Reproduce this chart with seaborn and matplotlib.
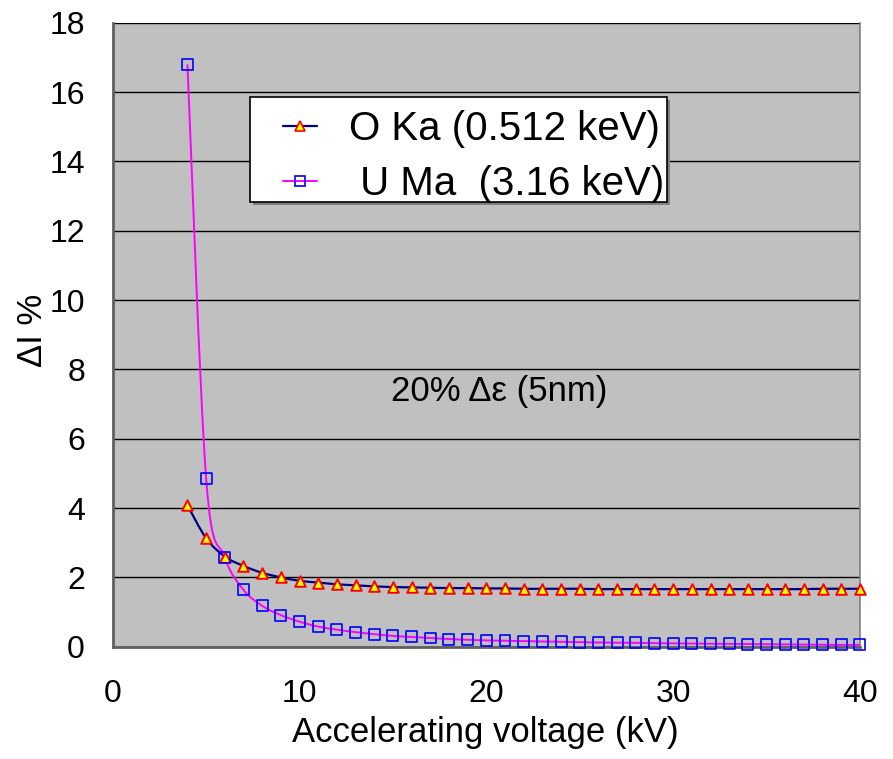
import numpy as np
import pandas as pd
import seaborn as sns
import matplotlib
matplotlib.use("Agg")
import matplotlib.pyplot as plt
from matplotlib.path import Path
from matplotlib.patches import PathPatch, Rectangle
from matplotlib.lines import Line2D

# Accelerating voltage (kV)
voltage = list(range(4, 41))

# Intensity change (%) for a 20% change in layer thickness, O Ka line
o_ka = [4.08, 3.13, 2.60, 2.33, 2.13, 2.00, 1.90, 1.85, 1.80, 1.77,
        1.74, 1.72, 1.71, 1.70, 1.69, 1.69, 1.68, 1.68, 1.67, 1.67,
        1.67, 1.67, 1.66, 1.66, 1.66, 1.66, 1.66, 1.66, 1.66, 1.66,
        1.66, 1.66, 1.66, 1.66, 1.67, 1.67, 1.67]

# Same for the U Ma line
u_ma = [16.80, 4.86, 2.58, 1.64, 1.18, 0.91, 0.72, 0.58, 0.49, 0.42,
        0.36, 0.31, 0.28, 0.25, 0.22, 0.20, 0.18, 0.17, 0.16, 0.15,
        0.14, 0.13, 0.12, 0.115, 0.11, 0.10, 0.095, 0.09, 0.085, 0.08,
        0.075, 0.07, 0.065, 0.06, 0.055, 0.05, 0.05]

series_labels = ["O Ka (0.512 keV)", " U Ma  (3.16 keV)"]
x_ticks = [0, 10, 20, 30, 40]
y_ticks = list(range(0, 19, 2))

sns.set_theme(style="white")
plt.rcParams["font.family"] = ["Liberation Sans", "DejaVu Sans"]
plt.rcParams["text.color"] = "black"
plt.rcParams["axes.labelcolor"] = "black"

W, H = 893, 759
fig = plt.figure(figsize=(W / 100, H / 100), dpi=100)
ax = fig.add_axes([0.1262, 0.148, 0.8368, 0.822])
ax.set_facecolor("#C0C0C0")


def smooth_path(xs, ys):
    """Catmull-Rom style Bezier path through the points (spreadsheet smoothing)."""
    pts = np.column_stack([xs, ys]).astype(float)
    verts = [pts[0]]
    codes = [Path.MOVETO]
    n = len(pts)
    for i in range(n - 1):
        p0 = pts[i - 1] if i > 0 else pts[i]
        p1 = pts[i]
        p2 = pts[i + 1]
        p3 = pts[i + 2] if i + 2 < n else pts[i + 1]
        c1 = p1 + (p2 - p0) / 6.0
        c2 = p2 - (p3 - p1) / 6.0
        verts += [c1, c2, p2]
        codes += [Path.CURVE4] * 3
    return Path(verts, codes)


line_o = "#000080"
line_u = "#FF00FF"

# horizontal gridlines
for yv in y_ticks:
    ax.axhline(yv, color="black", lw=1.0, zorder=1)

ax.add_patch(PathPatch(smooth_path(voltage, o_ka), fill=False,
                       edgecolor=line_o, lw=1.6, zorder=3))
ax.add_patch(PathPatch(smooth_path(voltage, u_ma), fill=False,
                       edgecolor=line_u, lw=1.4, zorder=3))

df = pd.DataFrame({"kV": voltage, "O": o_ka, "U": u_ma})
sns.scatterplot(data=df, x="kV", y="O", marker="^", s=58, color="#FFFF00",
                edgecolor="#FF0000", linewidth=1.4, ax=ax, zorder=4, clip_on=False)
sns.scatterplot(data=df, x="kV", y="U", marker="s", s=62, facecolor="none",
                edgecolor="#0000FF", linewidth=1.2, ax=ax, zorder=5, clip_on=False)

ax.set_xlim(0, 40)
ax.set_ylim(0, 18)
ax.set_xticks(x_ticks)
ax.set_yticks(y_ticks)
ax.tick_params(axis="both", labelsize=23, labelcolor="#000000", color="#606060",
               length=8, width=1.5, direction="out")
ax.tick_params(axis="x", pad=15)
ax.tick_params(axis="y", pad=12)
for side in ["left", "bottom"]:
    ax.spines[side].set_color("#606060")
    ax.spines[side].set_linewidth(2.0)
ax.spines["right"].set_color("#808080")
ax.spines["right"].set_linewidth(1.2)
ax.spines["top"].set_visible(False)

ax.set_xlabel("Accelerating voltage (kV)", fontsize=25)
ax.xaxis.set_label_coords(0.498, -0.111)
ax.set_ylabel("\u0394I %", fontsize=25)
ax.yaxis.set_label_coords(-0.085, 0.507)

ax.text(14.9, 7.36, "20% \u0394\u03b5 (5nm)", fontsize=25, ha="left", va="center")

# legend box with a drop shadow
bx0, by0, bx1, by1 = 250, 97, 667, 202
fig.patches.append(Rectangle(((bx0 + 3) / W, 1 - (by1 + 3) / H), (bx1 - bx0) / W,
                             (by1 - by0) / H, transform=fig.transFigure,
                             facecolor="#808080", edgecolor="none", zorder=5))
fig.patches.append(Rectangle((bx0 / W, 1 - by1 / H), (bx1 - bx0) / W,
                             (by1 - by0) / H, transform=fig.transFigure,
                             facecolor="white", edgecolor="black", lw=1.2, zorder=6))

handles = [
    Line2D([], [], color=line_o, lw=1.6, marker="^", markersize=7,
           markerfacecolor="#FFFF00", markeredgecolor="#FF0000", markeredgewidth=1.2),
    Line2D([], [], color=line_u, lw=1.4, marker="s", markersize=6.5,
           markerfacecolor="none", markeredgecolor="#0000FF", markeredgewidth=1.2),
]
leg = fig.legend(handles, series_labels, loc="upper left",
                 bbox_to_anchor=(283 / W, 1 - 110 / H), bbox_transform=fig.transFigure,
                 fontsize=29, frameon=False, handlelength=0.84, handletextpad=0.79,
                 borderpad=0, labelspacing=0.42, borderaxespad=0)
leg.set_zorder(7)

fig.savefig("out.png", dpi=100, facecolor="white")
